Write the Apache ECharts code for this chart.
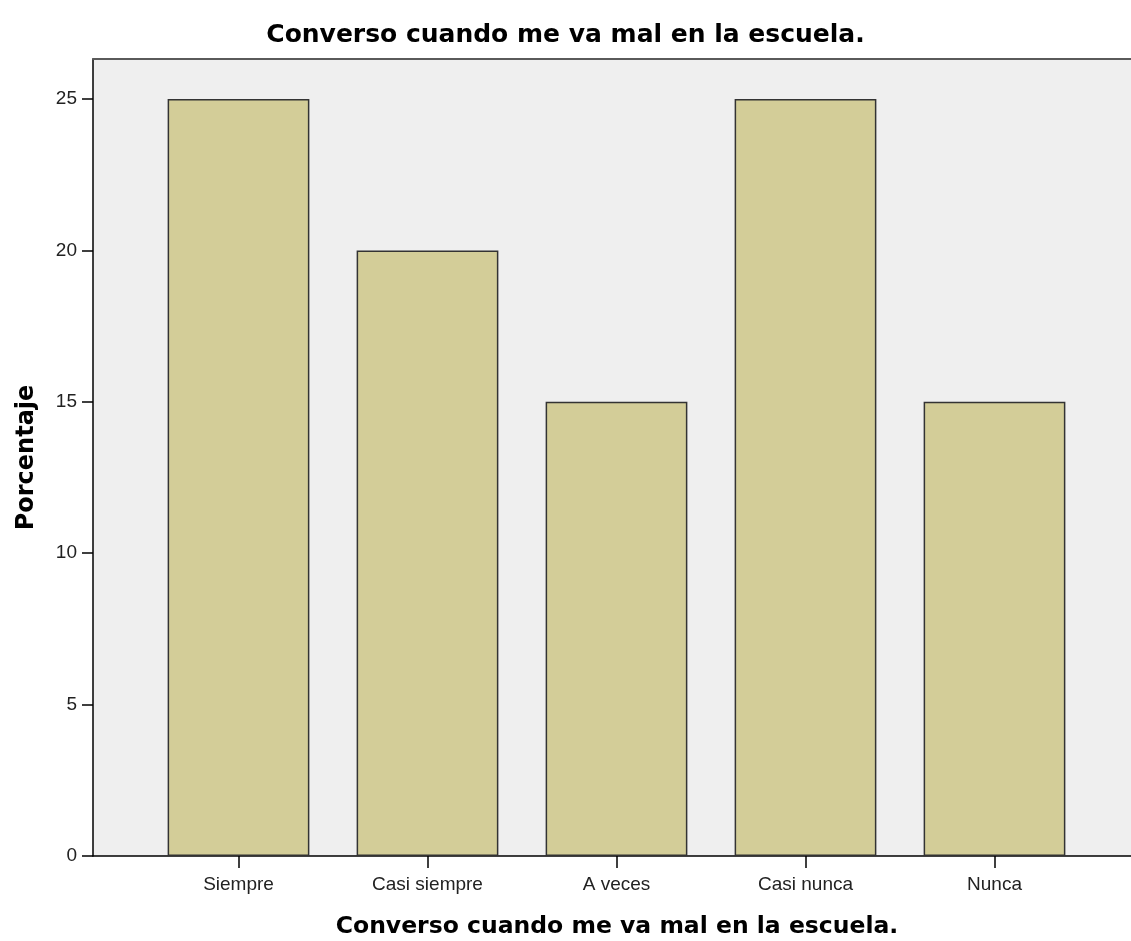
<!DOCTYPE html>
<html>
<head>
<meta charset="utf-8">
<script src="https://cdn.jsdelivr.net/npm/echarts@6/dist/echarts.min.js"></script>
<style>html,body{margin:0;padding:0;background:#fff;}#c{width:1131px;height:941px;}</style>
</head>
<body>
<div id="c"></div>
<script>
const titleText = 'Converso cuando me va mal en la escuela.';
const xAxisName = 'Converso cuando me va mal en la escuela.';
const yAxisName = 'Porcentaje';
const categories = ['Siempre', 'Casi siempre', 'A veces', 'Casi nunca', 'Nunca'];
const values = [25, 20, 15, 25, 15];
const yTicks = [0, 5, 10, 15, 20, 25];
const yMax = 26.32;

const font = 'Liberation Sans, Arial, sans-serif';
const boldFont = 'DejaVu Sans, sans-serif';
const chart = echarts.init(document.getElementById('c'));
chart.setOption({
  backgroundColor: '#ffffff',
  animation: false,
  title: [{
    text: titleText,
    left: 'center',
    top: 23,
    padding: [0, 0, 0, 5],
    textStyle: { fontFamily: boldFont, fontWeight: 'bold', fontSize: 25, color: '#000' }
  }],
  grid: [
    { left: 93, right: 0, top: 59, bottom: 85, show: true, backgroundColor: '#efefef', borderWidth: 0, containLabel: false, outerBoundsMode: 'none' },
    { left: 144, right: 42, top: 59, bottom: 85, containLabel: false, outerBoundsMode: 'none' }
  ],
  xAxis: [
    {
      gridIndex: 0, type: 'value', min: 0, max: 1, position: 'bottom',
      axisLine: { show: true, lineStyle: { color: '#000', width: 1.5 } },
      axisTick: { show: false }, axisLabel: { show: false }, splitLine: { show: false },
      name: xAxisName, nameLocation: 'middle', nameGap: 59,
      nameTextStyle: { fontFamily: boldFont, fontWeight: 'bold', fontSize: 23.5, color: '#000', padding: [0, 0, 0, 10] }
    },
    {
      gridIndex: 0, type: 'value', min: 0, max: 1, position: 'top',
      axisLine: { show: true, lineStyle: { color: '#5a5a5a', width: 2 } },
      axisTick: { show: false }, axisLabel: { show: false }, splitLine: { show: false }
    },
    {
      gridIndex: 1, type: 'category', data: categories, position: 'bottom',
      axisLine: { show: false },
      axisTick: { show: true, alignWithLabel: true, length: 12, lineStyle: { color: '#000', width: 1.5 } },
      axisLabel: { margin: 19, fontFamily: font, fontSize: 19, color: '#222' },
      splitLine: { show: false }
    }
  ],
  yAxis: [
    {
      gridIndex: 0, type: 'value', min: 0, max: yMax,
      axisLine: { show: true, lineStyle: { color: '#000', width: 1.5 } },
      axisTick: { show: true, length: 11, customValues: yTicks, lineStyle: { color: '#000', width: 1.5 } },
      axisLabel: { customValues: yTicks, margin: 16, fontFamily: font, fontSize: 19, color: '#222' },
      splitLine: { show: false },
      name: yAxisName, nameLocation: 'middle', nameGap: 54, nameRotate: 90,
      nameTextStyle: { fontFamily: boldFont, fontWeight: 'bold', fontSize: 24, color: '#000' }
    },
    { gridIndex: 1, type: 'value', min: 0, max: yMax, show: false }
  ],
  series: [{
    type: 'bar',
    xAxisIndex: 2,
    yAxisIndex: 1,
    data: values,
    barCategoryGap: '25%',
    itemStyle: { color: '#d3cd98', borderColor: '#333', borderWidth: 1.5 }
  }]
});
</script>
</body>
</html>
